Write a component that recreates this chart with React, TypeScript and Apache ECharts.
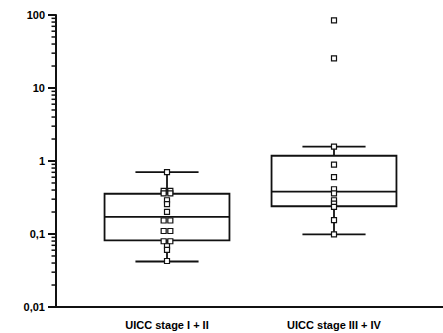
import React, { useEffect, useRef } from "react";
import * as echarts from "echarts";

const categories = ["UICC stage I + II", "UICC stage III + IV"];

// [lower whisker, Q1, median, Q3, upper whisker]
const boxStage12 = [0.042, 0.082, 0.172, 0.356, 0.706];
const boxStage34 = [0.099, 0.24, 0.38, 1.18, 1.57];

const pointsStage12 = [
  0.706, 0.39, 0.39, 0.36, 0.36, 0.29, 0.257, 0.201, 0.153, 0.153, 0.11, 0.11,
  0.0796, 0.0796, 0.068, 0.0605, 0.0427,
];
const pointsStage34 = [84.5, 25.4, 1.57, 0.89, 0.6, 0.41, 0.36, 0.29, 0.26, 0.235, 0.155, 0.099];

const yTickLabels = ["0,01", "0,1", "1", "10", "100"];
const minorTickValues = [
  0.02, 0.03, 0.04, 0.05, 0.06, 0.07, 0.08, 0.09,
  0.2, 0.3, 0.4, 0.5, 0.6, 0.7, 0.8, 0.9,
  2, 3, 4, 5, 6, 7, 8, 9,
  20, 30, 40, 50, 60, 70, 80, 90,
];

const X_MIN = 0.3353;
const X_MAX = 2.6527;
const BOX_HALF = 0.374;
const CAP_HALF = 0.189;
const JITTER = 0.02;
const FONT = "'Liberation Sans', Arial, sans-serif";

function jittered(values: number[], x: number) {
  const counts: Record<string, number> = {};
  const seen: Record<string, number> = {};
  values.forEach((v) => (counts[v] = (counts[v] || 0) + 1));
  return values.map((v) => {
    const n = counts[v];
    const i = seen[v] || 0;
    seen[v] = i + 1;
    const off = n > 1 ? (i - (n - 1) / 2) * 2 * JITTER : 0;
    return [x + off, v];
  });
}

export default function App() {
  const ref = useRef<HTMLDivElement>(null);
  useEffect(() => {
    if (!ref.current) return;
    const chart = echarts.init(ref.current, null, { renderer: "svg" });
    const stroke = "#111";
    const lw = 1.8;
    const option: any = {
      animation: false,
      backgroundColor: "#fff",
      grid: { left: 56, right: 0, top: 15, bottom: 26 },
      xAxis: {
        type: "value",
        min: X_MIN,
        max: X_MAX,
        axisLine: { show: true, onZero: false, lineStyle: { color: stroke, width: 2 } },
        axisTick: { show: false },
        splitLine: { show: false },
        axisLabel: {
          customValues: [1, 2],
          formatter: (v: number) => categories[Math.round(v) - 1] || "",
          color: "#000",
          fontFamily: FONT,
          fontWeight: "bold",
          fontSize: 11,
          margin: 12,
        },
      },
      yAxis: {
        type: "log",
        logBase: 10,
        min: 0.01,
        max: 100,
        splitNumber: 4,
        axisLine: { show: true, lineStyle: { color: stroke, width: 2 } },
        axisTick: { show: true, length: 8, lineStyle: { color: stroke, width: 2 } },
        splitLine: { show: false },
        axisLabel: {
          formatter: (v: number) => {
            const idx = Math.round(Math.log10(v)) + 2;
            return yTickLabels[idx] ?? String(v).replace(".", ",");
          },
          color: "#000",
          fontFamily: FONT,
          fontWeight: "bold",
          fontSize: 11,
          margin: 11,
        },
      },
      series: [
        {
          type: "custom",
          clip: false,
          silent: true,
          data: minorTickValues.map((v) => [X_MIN, v]),
          renderItem: (params: any, api: any) => {
            const p = api.coord([api.value(0), api.value(1)]);
            return {
              type: "line",
              shape: { x1: p[0] - 4.5, y1: p[1], x2: p[0], y2: p[1] },
              style: { stroke, lineWidth: 1.5 },
            };
          },
          z: 3,
        },
        {
          type: "custom",
          clip: false,
          silent: true,
          data: [
            [1, ...boxStage12],
            [2, ...boxStage34],
          ],
          renderItem: (params: any, api: any) => {
            const x = api.value(0);
            const lo = api.value(1);
            const q1 = api.value(2);
            const med = api.value(3);
            const q3 = api.value(4);
            const hi = api.value(5);
            const c = (xx: number, yy: number) => api.coord([xx, yy]);
            const bl = c(x - BOX_HALF, q1);
            const tr = c(x + BOX_HALF, q3);
            const mL = c(x - BOX_HALF, med);
            const mR = c(x + BOX_HALF, med);
            const cx = c(x, q3)[0];
            const yHi = c(x, hi)[1];
            const yLo = c(x, lo)[1];
            const capL = c(x - CAP_HALF, hi)[0];
            const capR = c(x + CAP_HALF, hi)[0];
            const st = { stroke, lineWidth: lw, fill: null };
            return {
              type: "group",
              children: [
                {
                  type: "rect",
                  shape: { x: bl[0], y: tr[1], width: tr[0] - bl[0], height: bl[1] - tr[1] },
                  style: { stroke, lineWidth: lw, fill: "none" },
                },
                { type: "line", shape: { x1: mL[0], y1: mL[1], x2: mR[0], y2: mR[1] }, style: st },
                { type: "line", shape: { x1: cx, y1: tr[1], x2: cx, y2: yHi }, style: st },
                { type: "line", shape: { x1: cx, y1: bl[1], x2: cx, y2: yLo }, style: st },
                { type: "line", shape: { x1: capL, y1: yHi, x2: capR, y2: yHi }, style: st },
                { type: "line", shape: { x1: capL, y1: yLo, x2: capR, y2: yLo }, style: st },
              ],
            };
          },
          z: 4,
        },
        {
          type: "scatter",
          symbol: "rect",
          symbolSize: 5,
          silent: true,
          itemStyle: { color: "#fff", borderColor: stroke, borderWidth: 1.2, opacity: 1 },
          data: [...jittered(pointsStage12, 1), ...jittered(pointsStage34, 2)],
          z: 5,
        },
      ],
    };
    chart.setOption(option);
    return () => chart.dispose();
  }, []);
  return (
    <div
      ref={ref}
      style={{ position: "fixed", left: 0, top: 0, width: 443, height: 333, background: "#fff" }}
    />
  );
}
